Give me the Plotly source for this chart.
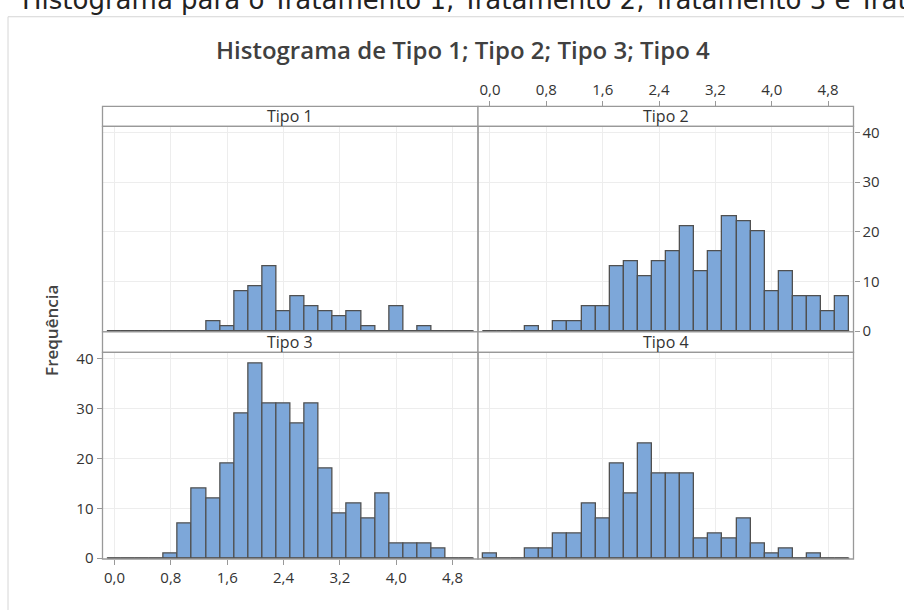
import plotly.graph_objects as go

# ---------------- data ----------------
bin_centers = [round(0.2 * i, 1) for i in range(26)]  # bin centres 0.0 ... 5.0
bin_width = 0.2

tipo1 = [0, 0, 0, 0, 0, 0, 0, 2, 1, 8, 9, 13, 4, 7, 5, 4, 3, 4, 1, 0, 5, 0, 1, 0, 0, 0]
tipo2 = [0, 0, 0, 1, 0, 2, 2, 5, 5, 13, 14, 11, 14, 16, 21, 12, 16, 23, 22, 20, 8, 12, 7, 7, 4, 7]
tipo3 = [0, 0, 0, 0, 1, 7, 14, 12, 19, 29, 39, 31, 31, 27, 31, 18, 9, 11, 8, 13, 3, 3, 3, 2, 0, 0]
tipo4 = [1, 0, 0, 2, 2, 5, 5, 11, 8, 19, 13, 23, 17, 17, 17, 4, 5, 4, 8, 3, 1, 2, 0, 1, 0, 0]

panel_names = ["Tipo 1", "Tipo 2", "Tipo 3", "Tipo 4"]
series = [tipo1, tipo2, tipo3, tipo4]

x_tickvals = [0.0, 0.8, 1.6, 2.4, 3.2, 4.0, 4.8]
x_ticktext = ["0,0", "0,8", "1,6", "2,4", "3,2", "4,0", "4,8"]
y_tickvals = [0, 10, 20, 30, 40]
y_ticktext = ["0", "10", "20", "30", "40"]

title_text = "Histograma de Tipo 1; Tipo 2; Tipo 3; Tipo 4"
y_label = "Frequência"
caption_text = "Histograma para o Tratamento 1, Tratamento 2, Tratamento 3 e Tratamento 4"

# ---------------- layout geometry (pixels) ----------------
W, H = 904, 612
def px(x):
    return x / W
def py(y):
    return 1 - y / H

col_x = [(102.5, 478.0), (478.0, 853.5)]
row_plot = [(124.0, 334.0), (355.0, 566.0)]
row_head = [(103.5, 124.0), (334.0, 355.0)]

FONT = "Open Sans, Noto Sans, DejaVu Sans, sans-serif"
BAR_FILL = "#7da7d9"
BAR_LINE = "#505050"
FRAME = "#999999"
GRID = "#ededed"
TXT = "#333333"
TICK_SIZE = 15

xrange_ = [-0.17, 5.16]
yrange_ = [-0.15, 41.2]

fig = go.Figure()

edges_lo = bin_centers[0] - bin_width / 2
edges_hi = bin_centers[-1] + bin_width / 2

for i, (name, vals) in enumerate(zip(panel_names, series)):
    r, c = divmod(i, 2)
    ax = "" if i == 0 else str(i + 1)
    fig.add_trace(go.Bar(
        x=bin_centers, y=vals, width=bin_width,
        marker=dict(color=BAR_FILL, line=dict(color=BAR_LINE, width=1.3)),
        xaxis="x" + ax, yaxis="y" + ax, showlegend=False, hoverinfo="x+y",
    ))
    fig.add_trace(go.Scatter(
        x=[edges_lo, edges_hi], y=[0, 0], mode="lines",
        line=dict(color=BAR_LINE, width=1.6),
        xaxis="x" + ax, yaxis="y" + ax, showlegend=False, hoverinfo="skip",
    ))

    xa = dict(domain=[px(col_x[c][0]), px(col_x[c][1])], range=xrange_,
              tickvals=x_tickvals, ticktext=x_ticktext, showgrid=True,
              gridcolor=GRID, gridwidth=1, zeroline=False, showline=False,
              anchor="y" + ax, ticks="", showticklabels=False,
              tickfont=dict(family=FONT, size=TICK_SIZE, color=TXT))
    ya = dict(domain=[py(row_plot[r][1]), py(row_plot[r][0])], range=yrange_,
              tickvals=y_tickvals, ticktext=y_ticktext, showgrid=True,
              gridcolor=GRID, gridwidth=1, zeroline=False, showline=False,
              anchor="x" + ax, ticks="", showticklabels=False,
              tickfont=dict(family=FONT, size=TICK_SIZE, color=TXT))
    if i == 1:
        xa.update(side="top", anchor="free", position=py(row_head[0][0]),
                  ticks="outside", ticklen=5, tickcolor=FRAME, showticklabels=True)
        ya.update(side="right", ticks="outside", ticklen=5, tickcolor=FRAME,
                  showticklabels=True)
    if i == 2:
        xa.update(side="bottom", ticks="outside", ticklen=5, tickcolor=FRAME,
                  showticklabels=True)
        ya.update(side="left", ticks="outside", ticklen=5, tickcolor=FRAME,
                  showticklabels=True)
    fig.update_layout(**{"xaxis" + ax: xa, "yaxis" + ax: ya})

shapes = []
annotations = []
for i, name in enumerate(panel_names):
    r, c = divmod(i, 2)
    x0, x1 = px(col_x[c][0]), px(col_x[c][1])
    shapes.append(dict(type="rect", xref="paper", yref="paper",
                       x0=x0, x1=x1, y0=py(row_head[r][1]), y1=py(row_head[r][0]),
                       fillcolor="white", line=dict(color=FRAME, width=1.3), layer="above"))
    shapes.append(dict(type="rect", xref="paper", yref="paper",
                       x0=x0, x1=x1, y0=py(row_plot[r][1]), y1=py(row_plot[r][0]),
                       fillcolor="rgba(0,0,0,0)", line=dict(color=FRAME, width=1.3), layer="above"))
    annotations.append(dict(text=name, xref="paper", yref="paper",
                            x=(x0 + x1) / 2, y=(py(row_head[r][0]) + py(row_head[r][1])) / 2,
                            xanchor="center", yanchor="middle", showarrow=False,
                            font=dict(family=FONT, size=16, color=TXT)))

# screenshot frame lines
shapes.append(dict(type="line", xref="paper", yref="paper", x0=px(8), x1=1.01,
                   y0=py(12), y1=py(12), line=dict(color="#d6d6d6", width=1)))
shapes.append(dict(type="line", xref="paper", yref="paper", x0=px(8), x1=px(8),
                   y0=py(12), y1=-0.01, line=dict(color="#d6d6d6", width=1)))

annotations.append(dict(text=title_text, xref="paper", yref="paper",
                        x=px(463), y=py(45), xanchor="center", yanchor="middle",
                        showarrow=False,
                        font=dict(family=FONT, size=24, color="#404040", weight=600)))
annotations.append(dict(text=y_label, xref="paper", yref="paper",
                        x=px(52), y=py(333), xanchor="center", yanchor="middle",
                        textangle=-90, showarrow=False,
                        font=dict(family=FONT, size=17, color="#444444", weight=600)))
annotations.append(dict(text=caption_text, xref="paper", yref="paper",
                        x=px(20), y=py(12.5), xanchor="left", yanchor="bottom",
                        showarrow=False,
                        font=dict(family="DejaVu Sans, sans-serif", size=26, color="#222222")))

fig.update_layout(
    width=W, height=H, margin=dict(l=0, r=0, t=0, b=0),
    paper_bgcolor="white", plot_bgcolor="white",
    bargap=0, shapes=shapes, annotations=annotations, showlegend=False,
)

fig.write_html("out.html", config={"displayModeBar": False},
               post_script="document.body.style.margin='0';document.body.style.overflow='hidden';")
